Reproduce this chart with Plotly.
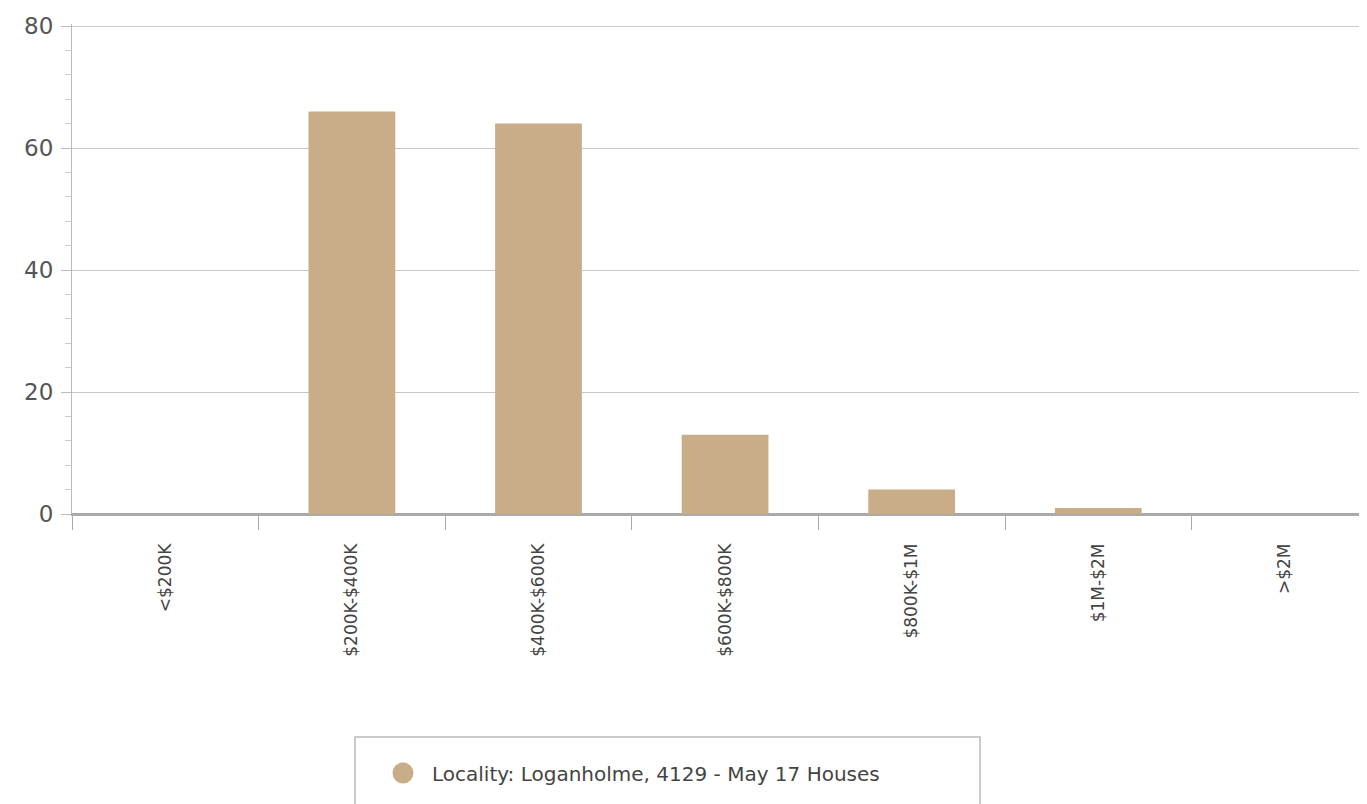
import plotly.graph_objects as go

categories = ["<$200K", "$200K-$400K", "$400K-$600K", "$600K-$800K", "$800K-$1M", "$1M-$2M", ">$2M"]
values = [0, 66, 64, 13, 4, 1, 0]
series_name = "Locality: Loganholme, 4129 - May 17 Houses"
y_ticks = [0, 20, 40, 60, 80]

bar_color = "#c8ad88"
grid_color = "#c8c8c8"
font_family = "DejaVu Sans, Verdana, sans-serif"

fig = go.Figure()
fig.add_trace(go.Bar(
    x=categories, y=values, marker=dict(color=bar_color, line=dict(width=0)),
    width=0.465, showlegend=False, name=series_name,
))
fig.add_trace(go.Scatter(
    x=[None], y=[None], mode="markers", name=series_name,
    marker=dict(symbol="circle", size=16, color=bar_color, line=dict(color=bar_color, width=5)),
    showlegend=True,
))

fig.update_layout(
    width=1359, height=796,
    margin=dict(l=64, r=0, t=16, b=290, autoexpand=False),
    plot_bgcolor="white", paper_bgcolor="white",
    font=dict(family=font_family, color="#555555"),
    xaxis=dict(
        type="category", range=[-0.5, 6.44], automargin=False,
        tickangle=-90, tickfont=dict(size=17, color="#444444"),
        tickson="boundaries", ticks="outside", ticklen=14, tickcolor="#aaaaaa",
        ticklabelstandoff=21,
        showline=True, linecolor="#aaaaaa", linewidth=1.5,
        showgrid=False, zeroline=False,
    ),
    yaxis=dict(
        range=[0, 80.328], tickvals=y_ticks, automargin=False,
        tickfont=dict(size=23, color="#555555"),
        ticks="outside", ticklen=10, tickcolor="#bbbbbb",
        ticklabelstandoff=3,
        showline=True, linecolor="#bbbbbb", linewidth=1,
        showgrid=True, gridcolor=grid_color, gridwidth=1,
        zeroline=True, zerolinecolor="#aaaaaa", zerolinewidth=1.5,
        minor=dict(dtick=4, ticks="outside", ticklen=6, tickcolor="#cccccc", showgrid=False),
    ),
    legend=dict(
        x=0.2332, xanchor="left", y=-0.5286, yanchor="middle",
        orientation="h", borderwidth=0, itemwidth=48,
        bgcolor="rgba(0,0,0,0)", font=dict(size=20, color="#444444"),
        itemsizing="trace",
    ),
    shapes=[dict(
        type="rect", xref="paper", yref="paper",
        x0=0.2185, x1=0.7012, y0=-0.455, y1=-0.62,
        line=dict(color="#bbbbbb", width=1.5), fillcolor="rgba(0,0,0,0)", layer="below",
    )],
)

fig.write_html("out.html")
